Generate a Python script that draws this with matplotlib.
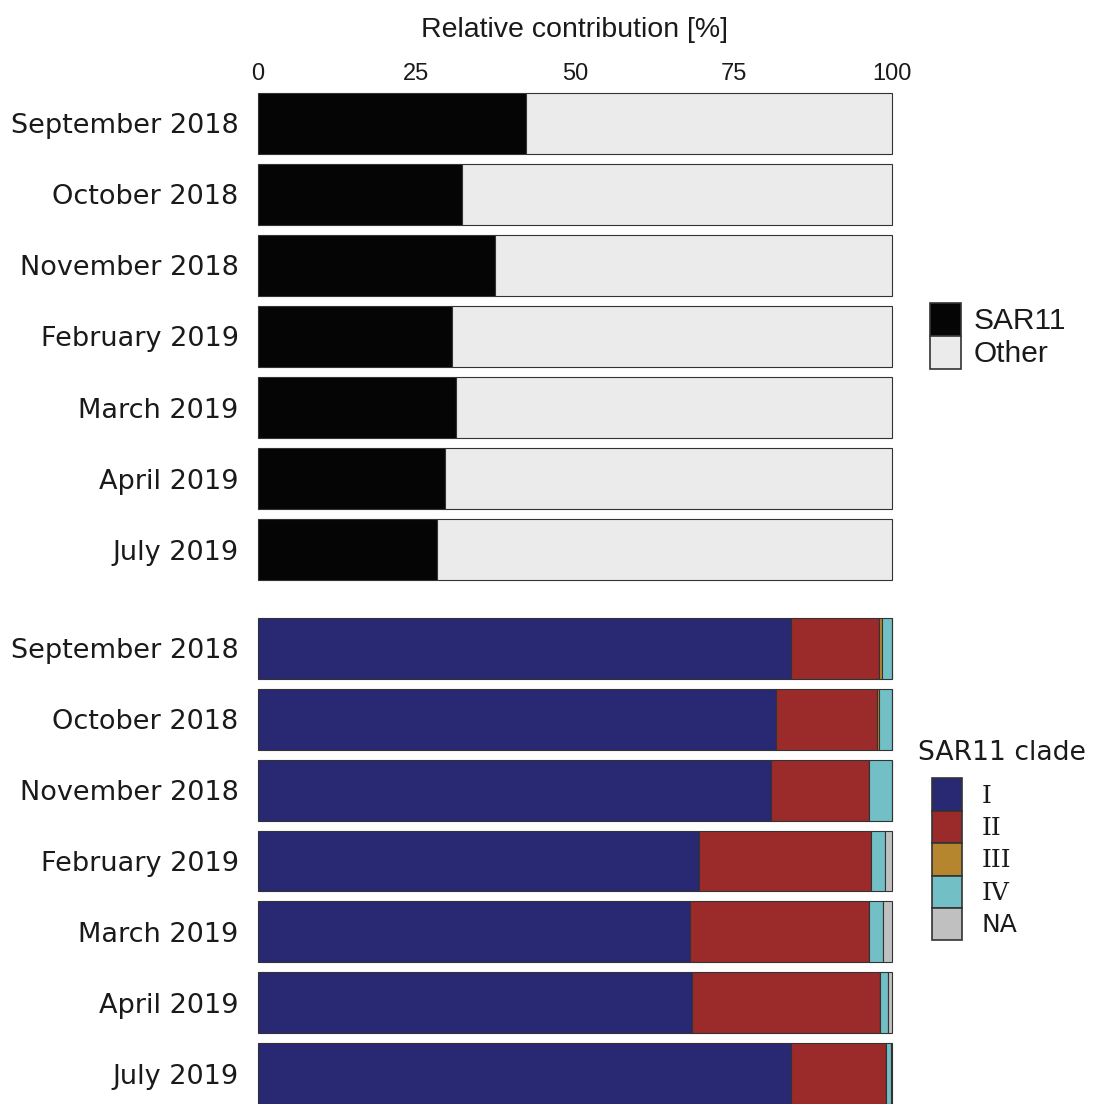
import matplotlib.pyplot as plt
from matplotlib.patches import Patch

months = ['September 2018', 'October 2018', 'November 2018', 'February 2019',
          'March 2019', 'April 2019', 'July 2019']

# top panel: SAR11 vs other (%)
sar11 = [42.3, 32.2, 37.4, 30.6, 31.2, 29.5, 28.2]
other = [57.7, 67.8, 62.6, 69.4, 68.8, 70.5, 71.8]

# bottom panel: SAR11 clades (%)
clade_names = ['I', 'II', 'III', 'IV', 'NA']
clade_I = [84.0, 81.7, 80.9, 69.6, 68.2, 68.4, 84.0]
clade_II = [14.0, 15.9, 15.5, 27.1, 28.1, 29.7, 15.1]
clade_III = [0.4, 0.4, 0.0, 0.0, 0.0, 0.0, 0.0]
clade_IV = [1.6, 2.0, 3.6, 2.2, 2.3, 1.2, 0.7]
clade_NA = [0.0, 0.0, 0.0, 1.1, 1.4, 0.7, 0.2]
clade_colors = ['#282873', '#9b2a2a', '#b5862e', '#72c0c6', '#c0c0c0']

edge = '#333333'
txt = '#1a1a1a'
bar_h = 0.86
lab_font = 'DejaVu Sans'

fig = plt.figure(figsize=(10.93, 11.04), dpi=100)
ax1 = fig.add_axes([0.2360, 0.4746, 0.5801, 0.4412])
ax2 = fig.add_axes([0.2360, 0.0, 0.5801, 0.4402])

y = list(range(len(months)))

# top panel
ax1.barh(y, sar11, height=bar_h, color='#050505', edgecolor=edge, linewidth=0.8, clip_on=False)
ax1.barh(y, other, left=sar11, height=bar_h, color='#ebebeb', edgecolor=edge, linewidth=0.8,
         clip_on=False)

# bottom panel - stacked clades
left = [0.0] * len(months)
for vals, col in zip([clade_I, clade_II, clade_III, clade_IV, clade_NA], clade_colors):
    ax2.barh(y, vals, left=left, height=bar_h, color=col, edgecolor=edge, linewidth=0.8,
             clip_on=False)
    left = [a + b for a, b in zip(left, vals)]

for ax in (ax1, ax2):
    ax.set_xlim(0, 100)
    ax.set_ylim(len(months) - 1 + bar_h / 2, -bar_h / 2)
    ax.set_yticks(y)
    ax.set_yticklabels(months, fontsize=19.5, family=lab_font, color=txt)
    ax.tick_params(axis='y', length=0, pad=14)
    for s in ax.spines.values():
        s.set_visible(False)

ax1.xaxis.tick_top()
ax1.xaxis.set_label_position('top')
ax1.set_xticks([0, 25, 50, 75, 100])
ax1.set_xticklabels(['0', '25', '50', '75', '100'], fontsize=17, family='Liberation Sans',
                    color=txt)
ax1.tick_params(axis='x', length=0, pad=5.5)
ax1.set_xlabel('Relative contribution [%]', fontsize=20.5, family='Liberation Sans',
               labelpad=19, color=txt)
ax2.set_xticks([])

# legends
h1 = [Patch(facecolor='#050505', edgecolor=edge, linewidth=1.2),
      Patch(facecolor='#ebebeb', edgecolor=edge, linewidth=1.2)]
leg1 = fig.legend(h1, ['SAR11', 'Other'], loc='upper left', bbox_to_anchor=(0.851, 0.7255),
                  frameon=False, prop={'family': 'Liberation Sans', 'size': 21.5},
                  handlelength=1.04, handleheight=1.315, labelspacing=0, handletextpad=0.43,
                  borderaxespad=0, borderpad=0)
for t in leg1.get_texts():
    t.set_color(txt)

h2 = [Patch(facecolor=c, edgecolor=edge, linewidth=1.2) for c in clade_colors]
leg2 = fig.legend(h2, clade_names, loc='upper left', bbox_to_anchor=(0.8525, 0.3300),
                  frameon=False, prop={'family': lab_font, 'size': 18},
                  handlelength=1.2, handleheight=1.62, labelspacing=0, handletextpad=0.8,
                  borderaxespad=0, borderpad=0, title='SAR11 clade',
                  title_fontproperties={'family': lab_font, 'size': 19.2})
leg2._legend_box.align = 'left'
leg2._legend_box.sep = 9
leg2.get_title().set_color(txt)
leg2.get_title().set_x(-14)
for t in leg2.get_texts():
    t.set_color(txt)
for t in leg2.get_texts()[:4]:
    t.set_family('DejaVu Serif')

fig.savefig('out.png', dpi=100)
